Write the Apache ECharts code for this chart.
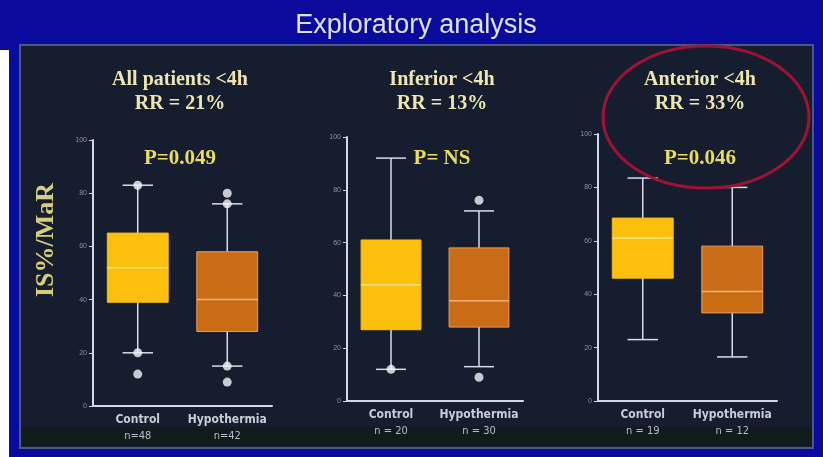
<!DOCTYPE html>
<html>
<head>
<meta charset="utf-8">
<script src="https://cdn.jsdelivr.net/npm/echarts@6/dist/echarts.min.js"></script>
<style>
  html, body { margin: 0; padding: 0; background: #0a0a9c; }
  #chart { width: 823px; height: 457px; }
</style>
</head>
<body>
<div id="chart"></div>
<script>
// --- data ---
var panelNames = ["All patients <4h", "Inferior <4h", "Anterior <4h"]
var rrLabels = ["RR = 21%", "RR = 13%", "RR = 33%"]
var pLabels = ["P=0.049", "P= NS", "P=0.046"]
var groups = ["Control", "Hypothermia"]
var nLabels = [["n=48", "n=42"], ["n = 20", "n = 30"], ["n = 19", "n = 12"]]
// [low whisker, Q1, median, Q3, high whisker]
var boxAll = [[20, 39, 52, 65, 83], [15, 28, 40, 58, 76]]
var boxInferior = [[12, 27, 44, 61, 92], [13, 28, 38, 58, 72]]
var boxAnterior = [[23, 46, 61, 68.5, 83.5], [16.5, 33, 41, 58, 80]]
// single points (whisker ends marked with a dot + outliers)
var dotsAll = [[83, 20, 12], [80, 76, 15, 9]]
var dotsInferior = [[12], [76, 9]]
var dotsAnterior = [[], []]
var yTicks = { min: 0, max: 100, interval: 20 }

var boxes = [boxAll, boxInferior, boxAnterior]
var dots = [dotsAll, dotsInferior, dotsAnterior]

// layout of the three plots (pixels)
var grids = [
    { left: 93, top: 140, width: 179, height: 266 },
    { left: 347, top: 137, width: 176, height: 264 },
    { left: 598, top: 134, width: 179, height: 267 }
]
var titleX = [180, 442, 700]

var boxFill = ["#fdbf0e", "#c96c15"]
var boxLine = ["#fdbf0e", "#e6a060"]
var medianColor = ["#ffe27c", "#f2b278"]

var chart = echarts.init(document.getElementById("chart"))

var xAxes = [], yAxes = [], series = [], graphics = []

// background: blue slide, dark panel
graphics.push({ type: "rect", shape: { x: 0, y: 0, width: 823, height: 457 }, style: { fill: "#0a0a9c" }, z: -10 })
graphics.push({ type: "rect", shape: { x: 0, y: 50, width: 9, height: 407 }, style: { fill: "#ffffff" }, z: -9 })
graphics.push({ type: "rect", shape: { x: 20, y: 45, width: 793, height: 403 }, style: { fill: "#151d2e", stroke: "#4a5886", lineWidth: 2 }, z: -9 })
graphics.push({ type: "rect", shape: { x: 22, y: 427, width: 789, height: 19 }, style: { fill: "#101b1c" }, z: -8 })
graphics.push({
    type: "text", x: 416, y: 26,
    style: { text: "Exploratory analysis", fill: "#dfe2f2", font: "27px 'Liberation Sans Narrow', 'Liberation Sans', Arial", textAlign: "center", textVerticalAlign: "middle" }
})
graphics.push({
    type: "text", x: 46, y: 240, rotation: Math.PI / 2,
    style: { text: "IS%/MaR", fill: "#d6ce7c", font: "bold 26px 'Liberation Serif', serif", textAlign: "center", textVerticalAlign: "middle" }
})
graphics.push({
    type: "ellipse", shape: { cx: 706, cy: 117, rx: 103, ry: 71 },
    style: { fill: "none", stroke: "#a01234", lineWidth: 3 }, z: 20
})

for (var p = 0; p < 3; p++) {
    graphics.push({
        type: "text", x: titleX[p], y: 68,
        style: { text: panelNames[p] + "\n" + rrLabels[p], fill: "#eee6b2", font: "bold 20px 'Liberation Serif', serif", textAlign: "center", lineHeight: 24 }
    })
    graphics.push({
        type: "text", x: titleX[p], y: 159,
        style: { text: pLabels[p], fill: "#e9dc62", font: "bold 21px 'Liberation Serif', serif", textAlign: "center", textVerticalAlign: "middle" }
    })

    xAxes.push({
        type: "category", gridIndex: p, data: groups,
        axisLine: { lineStyle: { color: "#d4d8e6", width: 2 } },
        axisTick: { alignWithLabel: true, length: 4, lineStyle: { color: "#d4d8e6" } },
        axisLabel: {
            margin: 6, interval: 0,
            formatter: (function (pi) {
                return function (v, i) { return "{a|" + v + "}\n{b|" + nLabels[pi][i] + "}" }
            })(p),
            rich: {
                a: { fontFamily: "'DejaVu Sans Condensed', 'DejaVu Sans'", fontWeight: "bold", fontSize: 12, color: "#c9cdd9", lineHeight: 16 },
                b: { fontFamily: "'DejaVu Sans Condensed', 'DejaVu Sans'", fontSize: 11, color: "#b8bccb", lineHeight: 17 }
            }
        }
    })
    yAxes.push({
        type: "value", gridIndex: p, min: yTicks.min, max: yTicks.max, interval: yTicks.interval,
        axisLine: { show: true, lineStyle: { color: "#d4d8e6", width: 2 } },
        axisTick: { show: true, length: 4, lineStyle: { color: "#d4d8e6" } },
        axisLabel: { fontSize: 7, color: "#8c92a4", margin: 6 },
        splitLine: { show: false }
    })

    var boxData = boxes[p].map(function (b, i) { return [i].concat(b) })
    series.push({
        type: "custom", xAxisIndex: p, yAxisIndex: p, data: boxData,
        renderItem: function (params, api) {
            var i = api.value(0)
            var band = api.size([1, 0])[0]
            var bw = band * 0.68
            var cap = bw * 0.5
            var lo = api.coord([i, api.value(1)])
            var q1 = api.coord([i, api.value(2)])
            var md = api.coord([i, api.value(3)])
            var q3 = api.coord([i, api.value(4)])
            var hi = api.coord([i, api.value(5)])
            var x = lo[0]
            var ws = { stroke: "#d8dcea", lineWidth: 1.5 }
            return {
                type: "group",
                children: [
                    { type: "line", shape: { x1: x, y1: hi[1], x2: x, y2: q3[1] }, style: ws },
                    { type: "line", shape: { x1: x, y1: q1[1], x2: x, y2: lo[1] }, style: ws },
                    { type: "line", shape: { x1: x - cap / 2, y1: hi[1], x2: x + cap / 2, y2: hi[1] }, style: ws },
                    { type: "line", shape: { x1: x - cap / 2, y1: lo[1], x2: x + cap / 2, y2: lo[1] }, style: ws },
                    { type: "rect", shape: { x: x - bw / 2, y: q3[1], width: bw, height: q1[1] - q3[1] },
                      style: { fill: boxFill[i], stroke: boxLine[i], lineWidth: 1 } },
                    { type: "line", shape: { x1: x - bw / 2, y1: md[1], x2: x + bw / 2, y2: md[1] },
                      style: { stroke: medianColor[i], lineWidth: 1.5 } }
                ]
            }
        },
        z: 2
    })

    var pts = []
    dots[p].forEach(function (list, i) {
        list.forEach(function (v) { pts.push([i, v]) })
    })
    series.push({
        type: "scatter", xAxisIndex: p, yAxisIndex: p, data: pts,
        symbolSize: 9, itemStyle: { color: "#f4f6fb" }, z: 5
    })
}

var grid = grids.map(function (g) {
    return { left: g.left, top: g.top, width: g.width, height: g.height }
})

chart.setOption({
    animation: false,
    grid: grid,
    xAxis: xAxes,
    yAxis: yAxes,
    series: series,
    graphic: graphics
})
</script>
</body>
</html>
